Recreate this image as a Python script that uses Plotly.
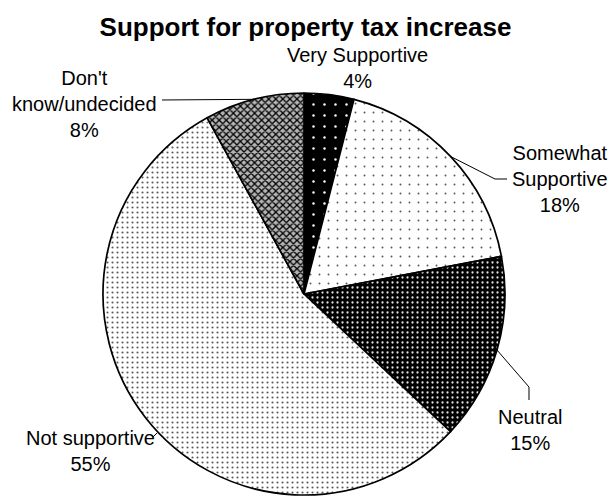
import math
import plotly.graph_objects as go

# Survey responses, in clockwise order starting at 12 o'clock
categories = ["Very Supportive", "Somewhat Supportive", "Neutral", "Not supportive", "Don't know/undecided"]
shares = [4, 18, 15, 55, 8]
# How each label is broken over lines
label_lines = [["Very Supportive"], ["Somewhat", "Supportive"], ["Neutral"], ["Not supportive"], ["Don't", "know/undecided"]]

W, H = 611, 498
FONT = "Liberation Sans, Arial, sans-serif"

# pie geometry in pixels
CX, CY, R = 304, 294, 201

def px(x):
    return x / W

def py(y):
    return 1 - y / H

# Black-and-white print style fills
bg_colors = ["#000000", "#ffffff", "#000000", "#ffffff", "#b4b4b4"]
fg_colors = ["#ffffff", "#555555", "#e0e0e0", "#5a5a5a", "#000000"]
shapes_ = [".", ".", ".", ".", "x"]
sizes = [11, 9, 5, 5, 5]
solid = [0.04, 0.035, 0.16, 0.14, 0.45]

fig = go.Figure(go.Pie(
    labels=categories,
    values=shares,
    sort=False,
    direction="clockwise",
    rotation=0,
    textinfo="none",
    hoverinfo="label+percent",
    showlegend=False,
    domain=dict(x=[px(CX - R), px(CX + R)], y=[py(CY + R), py(CY - R)]),
    marker=dict(
        colors=bg_colors,
        line=dict(color="#000000", width=1.7),
        pattern=dict(shape=shapes_, fgcolor=fg_colors, bgcolor=bg_colors,
                     size=sizes, solidity=solid, fillmode="replace"),
    ),
))

# Mid-angle edge point of each slice (clockwise from the top)
total = sum(shares)
edge_pts = []
acc = 0
for v in shares:
    mid = (acc + v / 2) / total * 2 * math.pi
    edge_pts.append((CX + R * math.sin(mid), CY - R * math.cos(mid)))
    acc += v

# label centres (pixels)
label_pos = [(357, 68), (560, 179), (530, 430), (90, 451), (84, 104)]
annotations = []
for lines, v, (lx, ly) in zip(label_lines, shares, label_pos):
    annotations.append(dict(
        x=px(lx), y=py(ly), xref="paper", yref="paper",
        text="<br>".join(lines + [f"{v}%"]),
        showarrow=False, xanchor="center", yanchor="middle",
        font=dict(family=FONT, size=20, color="#000000"),
    ))

# leader lines: from the label to the slice edge
leaders = [
    None,
    [(507, 179), (495, 179)],
    [(529, 400), (529, 387)],
    [(153, 437), (157, 433)],
    [(162, 100)],
]
shapes = []
for i, pts in enumerate(leaders):
    if pts is None:
        continue
    path_pts = pts + ([edge_pts[i]] if i != 3 else [])
    d = "M " + " L ".join(f"{px(x):.5f},{py(y):.5f}" for x, y in path_pts)
    shapes.append(dict(type="path", xref="paper", yref="paper", path=d,
                       line=dict(color="#000000", width=1)))

fig.update_layout(
    width=W, height=H,
    margin=dict(l=0, r=0, t=0, b=0),
    paper_bgcolor="#ffffff",
    plot_bgcolor="#ffffff",
    title=dict(text="<b>Support for property tax increase</b>",
               x=0.5, xanchor="center", xref="paper",
               y=py(27), yref="paper", yanchor="middle",
               font=dict(family=FONT, size=26, color="#000000")),
    annotations=annotations,
    shapes=shapes,
)

fig.write_html("out.html")
